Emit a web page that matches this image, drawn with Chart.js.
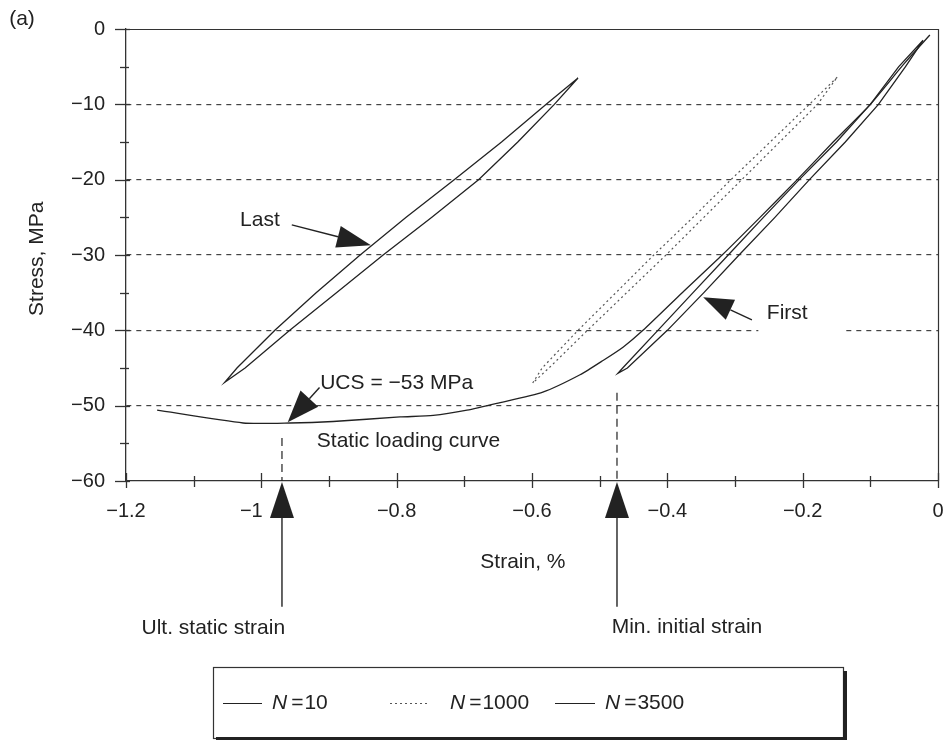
<!DOCTYPE html>
<html><head><meta charset="utf-8">
<script src="https://cdn.jsdelivr.net/npm/chart.js@4.4.1/dist/chart.umd.min.js"></script>
<style>html,body{margin:0;padding:0;background:#fff}#wrap{width:948px;height:740px;position:relative}</style>
</head><body><div id="wrap"><canvas id="c"></canvas></div>
<script>
// ---- data (strain %, stress MPa) ----
const xTickValues = [-1.2, -1, -0.8, -0.6, -0.4, -0.2, 0];
const yTickValues = [0, -10, -20, -30, -40, -50, -60];
const seriesLabels = ['10', '1000', '3500'];

const staticStrain = [-0.012,-0.05,-0.100,-0.155,-0.208,-0.263,-0.319,-0.378,-0.436,-0.465,-0.495,-0.529,-0.584,-0.652,-0.696,-0.746,-0.795,-0.894,-0.958,-1.027,-1.154];
const staticStress = [-0.8,-4.6,-10,-15,-20,-25,-30,-35,-40,-42.2,-44.0,-45.9,-48.2,-49.7,-50.6,-51.3,-51.5,-52.1,-52.3,-52.3,-50.6];

const n10Strain = [-0.022,-0.058,-0.100,-0.150,-0.205,-0.258,-0.310,-0.362,-0.414,-0.466,-0.473,-0.459,-0.400,-0.346,-0.294,-0.241,-0.190,-0.137,-0.088,-0.048,-0.022];
const n10Stress = [-1.5,-5,-10,-15,-20,-25,-30,-35,-40,-45,-45.7,-45,-40,-35,-30,-25,-20,-15,-10,-5,-1.5];

const n1000Strain = [-0.149,-0.190,-0.248,-0.306,-0.362,-0.420,-0.476,-0.532,-0.585,-0.599,-0.575,-0.518,-0.460,-0.402,-0.346,-0.290,-0.234,-0.178,-0.149];
const n1000Stress = [-6.4,-10,-15,-20,-25,-30,-35,-40,-45,-47,-45,-40,-35,-30,-25,-20,-15,-10,-6.4];

const n3500Strain = [-0.532,-0.579,-0.645,-0.715,-0.786,-0.854,-0.919,-0.980,-1.036,-1.054,-1.024,-0.958,-0.889,-0.820,-0.748,-0.679,-0.621,-0.567,-0.532];
const n3500Stress = [-6.5,-10,-15,-20,-25,-30,-35,-40,-45,-46.9,-45,-40,-35,-30,-25,-20,-15,-10,-6.5];

const pts = (xs, ys) => xs.map((v, i) => ({x: v, y: ys[i]}));
const FONT = '"Liberation Sans", Arial, Helvetica, sans-serif';
const INK = '#222';
const minus = v => {
  if (v === 0) return '0';
  const s = '\u2212' + String(Math.abs(Number(v.toFixed(2))));
  return v === -1 ? s + '\u2003' : s;   // "−1" sits left of the arrow, as in the original
};

const annot = {
  id: 'annot',
  afterDraw(chart) {
    const {ctx, scales: {x, y}, chartArea: ca} = chart;
    const X = v => x.getPixelForValue(v), Y = v => y.getPixelForValue(v);
    ctx.save();
    ctx.strokeStyle = '#333';
    ctx.fillStyle = INK;
    // frame top & right
    ctx.lineWidth = 1.2;
    ctx.beginPath();
    ctx.moveTo(ca.left, ca.top + 0.5); ctx.lineTo(ca.right + 0.5, ca.top + 0.5); ctx.lineTo(ca.right + 0.5, ca.bottom);
    ctx.stroke();
    // ticks crossing the axes
    ctx.lineWidth = 1.3;
    for (let v = 0; v >= -60; v -= 5) {
      const major = v % 10 === 0;
      const py = Math.round(Y(v)) + 0.5;
      ctx.beginPath(); ctx.moveTo(ca.left - (major ? 11 : 6), py); ctx.lineTo(ca.left + (major ? 4 : 3), py); ctx.stroke();
    }
    for (let i = 0; i <= 12; i++) {
      const v = -1.2 + i * 0.1;
      const major = i % 2 === 0;
      const px = Math.round(X(v)) + 0.5;
      ctx.beginPath(); ctx.moveTo(px, ca.bottom - (major ? 8 : 5)); ctx.lineTo(px, ca.bottom + (major ? 7 : 6)); ctx.stroke();
    }
    // mask gridline behind "First"
    ctx.fillStyle = '#fff';
    ctx.fillRect(X(-0.2655), Y(-38.5), X(-0.1385) - X(-0.2655), Y(-41.2) - Y(-38.5));
    ctx.fillStyle = INK;

    const arrow = (x1, y1, x2, y2, len, half) => {
      const dx = x2 - x1, dy = y2 - y1, d = Math.hypot(dx, dy), ux = dx / d, uy = dy / d;
      const bx = x2 - ux * len, by = y2 - uy * len;
      ctx.lineWidth = 1.4;
      ctx.beginPath(); ctx.moveTo(x1, y1); ctx.lineTo(bx, by); ctx.stroke();
      ctx.beginPath(); ctx.moveTo(x2, y2); ctx.lineTo(bx - uy * half, by + ux * half); ctx.lineTo(bx + uy * half, by - ux * half); ctx.closePath(); ctx.fill();
    };
    const text = (s, px, py, align, size, italic) => {
      ctx.font = (italic ? 'italic ' : '') + size + 'px ' + FONT;
      ctx.textAlign = align || 'left'; ctx.textBaseline = 'middle';
      ctx.fillText(s, px, py);
    };
    ctx.strokeStyle = INK;
    // Last
    text('Last', X(-1.0315), Y(-25.4), 'left', 21);
    arrow(X(-0.955), Y(-26.0), X(-0.838), Y(-28.7), 34, 11);
    // First
    text('First', X(-0.253), Y(-37.7), 'left', 21);
    arrow(X(-0.275), Y(-38.6), X(-0.347), Y(-35.6), 30, 11);
    // UCS
    text('UCS = \u221253 MPa', X(-0.913), Y(-47.0), 'left', 21);
    arrow(X(-0.914), Y(-47.6), X(-0.961), Y(-52.2), 32, 12);
    text('Static loading curve', X(-0.918), Y(-54.7), 'left', 21);
    // dashed guides
    ctx.lineWidth = 1.2; ctx.setLineDash([8, 5]);
    ctx.beginPath(); ctx.moveTo(X(-0.9695), Y(-54.3)); ctx.lineTo(X(-0.9695), ca.bottom); ctx.stroke();
    ctx.beginPath(); ctx.moveTo(X(-0.4744), Y(-48.3)); ctx.lineTo(X(-0.4744), ca.bottom); ctx.stroke();
    ctx.setLineDash([]);
    // strain arrows below axis
    arrow(X(-0.9695), Y(-76.7), X(-0.9695), ca.bottom + 1, 36, 12);
    arrow(X(-0.4744), Y(-76.7), X(-0.4744), ca.bottom + 1, 36, 12);
    text('Ult. static strain', X(-1.071), 628, 'center', 21);
    text('Min. initial strain', X(-0.371), 627, 'center', 21);
    // axis titles
    text('Strain, %', X(-0.6134), 562, 'center', 21);
    ctx.save(); ctx.translate(37, Y(-30.5)); ctx.rotate(-Math.PI / 2); text('Stress, MPa', 0, 0, 'center', 21); ctx.restore();
    text('(a)', 22, 19, 'center', 21);

    // legend box
    const L = 213, T = 667, R = 843, B = 738;
    ctx.strokeStyle = '#333'; ctx.lineWidth = 1.2;
    ctx.strokeRect(L + 0.5, T + 0.5, R - L, B - T);
    ctx.fillStyle = '#222';
    ctx.fillRect(R, T + 4, 4, B - T);
    ctx.fillRect(L + 3, B - 1, R - L + 1, 3);
    const ly = 703;
    const items = [[223, 262, 272], [390, 428, 450], [555, 595, 605]];
    const dsIdx = [1, 2, 3];
    items.forEach((it, k) => {
      const ds = chart.data.datasets[dsIdx[k]];
      ctx.strokeStyle = ds.borderColor; ctx.lineWidth = 1.2;
      ctx.setLineDash(ds.borderDash || []);
      ctx.beginPath(); ctx.moveTo(it[0], ly + 0.5); ctx.lineTo(it[1], ly + 0.5); ctx.stroke();
      ctx.setLineDash([]);
      ctx.fillStyle = INK;
      ctx.font = 'italic 21px ' + FONT; ctx.textAlign = 'left'; ctx.textBaseline = 'middle';
      ctx.fillText('N', it[2], ly);
      let px = it[2] + ctx.measureText('N').width + 4;
      ctx.font = '21px ' + FONT;
      ctx.fillText('=', px, ly);
      px += ctx.measureText('=').width + 1;
      ctx.fillText(seriesLabels[k], px, ly);
    });
    ctx.restore();
  }
};

const common = {showLine: true, pointRadius: 0, borderWidth: 1.3, fill: false, tension: 0};
new Chart(document.getElementById('c'), {
  type: 'scatter',
  data: {
    datasets: [
      {...common, label: 'Static loading curve', data: pts(staticStrain, staticStress), borderColor: '#222', tension: 0.2},
      {...common, label: 'N = ' + seriesLabels[0], data: pts(n10Strain, n10Stress), borderColor: '#222'},
      {...common, label: 'N = ' + seriesLabels[1], data: pts(n1000Strain, n1000Stress), borderColor: '#555', borderWidth: 1.2, borderDash: [2, 3]},
      {...common, label: 'N = ' + seriesLabels[2], data: pts(n3500Strain, n3500Stress), borderColor: '#222'}
    ]
  },
  options: {
    responsive: true, maintainAspectRatio: false, animation: false,
    layout: {padding: {top: 29, right: 10, left: 0, bottom: 0}},
    plugins: {legend: {display: false}, tooltip: {enabled: false}},
    scales: {
      x: {
        type: 'linear', min: -1.2, max: 0,
        afterBuildTicks: s => { s.ticks = xTickValues.map(v => ({value: v})); },
        afterFit: s => { s.height = 259; s.paddingLeft = 0; s.paddingRight = 0; },
        ticks: {autoSkip: false, maxRotation: 0, padding: 8, color: INK, font: {family: FONT, size: 20}, callback: v => minus(v)},
        grid: {drawOnChartArea: false, drawTicks: true, tickLength: 10, tickColor: 'rgba(0,0,0,0)'},
        border: {display: true, color: '#333', width: 1.3}
      },
      y: {
        type: 'linear', min: -60, max: 0,
        afterBuildTicks: s => { s.ticks = yTickValues.map(v => ({value: v})); },
        afterFit: s => { s.width = 126; s.paddingTop = 0; s.paddingBottom = 0; },
        ticks: {autoSkip: false, padding: 11, color: INK, font: {family: FONT, size: 20}, callback: v => minus(v)},
        grid: {
          drawTicks: true, tickLength: 10, tickColor: 'rgba(0,0,0,0)', lineWidth: 1.2,
          color: c => (c.tick && c.tick.value < 0 && c.tick.value > -60) ? '#444' : 'rgba(0,0,0,0)'
        },
        border: {display: true, color: '#333', width: 1.3, dash: [5, 5]}
      }
    }
  },
  plugins: [annot]
});
</script></body></html>
